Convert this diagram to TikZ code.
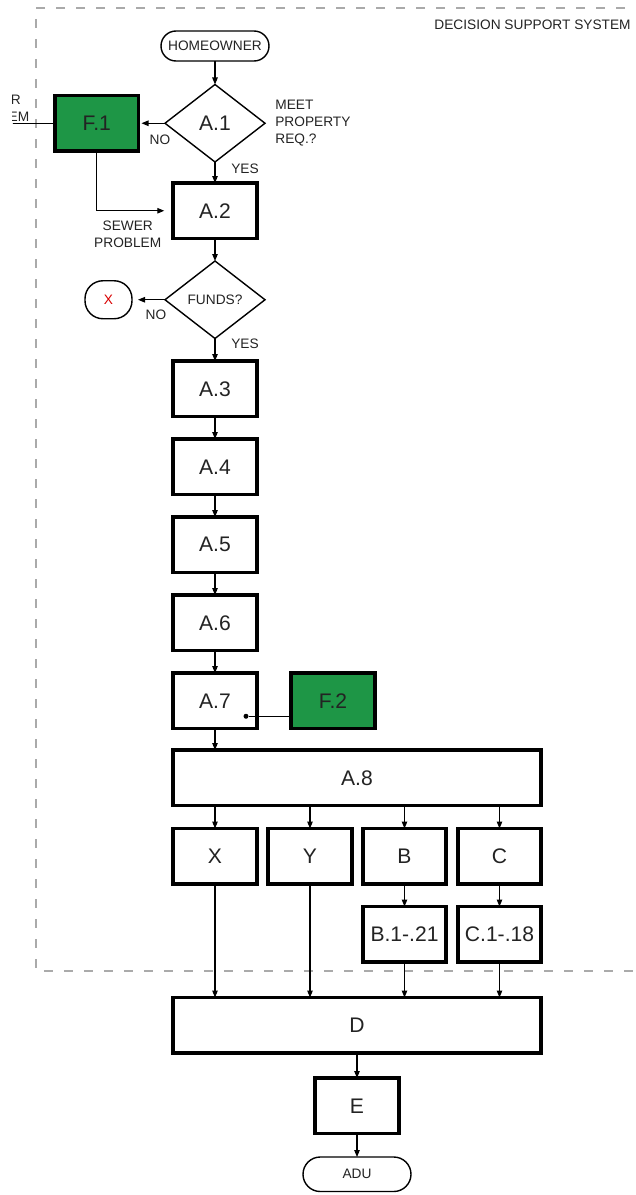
\documentclass[tikz,border=0pt]{standalone}
\usepackage{fontspec}
\setmainfont{Liberation Sans}
\usetikzlibrary{arrows.meta,positioning,shapes.geometric,calc}
\definecolor{fgreen}{RGB}{30,150,70}
\definecolor{ink}{RGB}{35,35,35}
\definecolor{framegray}{RGB}{170,170,170}

\begin{document}
\begin{tikzpicture}[
  font=\fontsize{7.8}{9.8}\selectfont,
  text=ink,
  >={Triangle[length=1.4mm,width=1.1mm]},
  box/.style={draw=black, line width=2pt, minimum width=16.7mm, minimum height=11.1mm,
              inner sep=2pt, outer sep=0pt, font=\fontsize{12}{14}\selectfont, fill=white},
  longbox/.style={box, minimum width=73.5mm},
  fbox/.style={box, fill=fgreen},
  decision/.style={draw=black, diamond, aspect=1.28, line width=0.8pt, minimum width=20mm,
                   minimum height=15.5mm, inner sep=0pt, outer sep=0pt, fill=white},
  terminal/.style={draw=black, line width=0.8pt, rounded corners=3mm, minimum width=21.6mm,
                   minimum height=6mm, inner sep=1pt, outer sep=0pt, fill=white},
  lbl/.style={inner sep=0pt, align=left},
  flow/.style={->, line width=0.6pt},
  link/.style={line width=0.6pt},
  dot/.style={circle, fill=black, inner sep=0pt, minimum size=1mm},
  sysframe/.style={draw=framegray, line width=0.8pt, dash pattern=on 1.8mm off 2.2mm},
]
\useasboundingbox (0,0) rectangle (12.7,-23.9);
\clip (0.26,0.1) rectangle (12.8,-24);

% ---- system boundary ---------------------------------------------------
\draw[sysframe] (12.9,-0.16) -| (0.72,-19.42) -- (12.9,-19.42);
\node[lbl, anchor=east] (dss) at (12.62,-0.5) {DECISION SUPPORT SYSTEM};

% ---- main column -------------------------------------------------------
\node[terminal] (home) at (4.3,-0.92) {HOMEOWNER};
\node[decision, font=\fontsize{12}{14}\selectfont, below=4.7mm of home] (A1) {A.1};
\node[box, below=4.2mm of A1] (A2) {A.2};
\node[decision, below=4.5mm of A2] (funds) {FUNDS?};
\node[box, below=4.5mm of funds] (A3) {A.3};
\node[box, below=4.5mm of A3] (A4) {A.4};
\node[box, below=4.5mm of A4] (A5) {A.5};
\node[box, below=4.5mm of A5] (A6) {A.6};
\node[box, below=4.5mm of A6] (A7) {A.7};

% ---- side branches -----------------------------------------------------
\node[fbox, left=5.3mm of A1] (F1) {F.1};
\node[fbox, right=6.9mm of A7] (F2) {F.2};
\node[terminal, minimum width=9.4mm, minimum height=7.6mm, rounded corners=3.6mm,
      text=red!85!black, left=6.6mm of funds] (stop) {X};

% ---- split and merge ---------------------------------------------------
\node[longbox, anchor=north west] (A8) at ($(A7.south west)+(0,-4.3mm)$) {A.8};
\node[box, anchor=north west] (X) at ($(A8.south west)+(0,-4.6mm)$) {X};
\node[box, right=2.3mm of X] (Y) {Y};
\node[box, right=2.2mm of Y] (B) {B};
\node[box, right=2.3mm of B] (C) {C};
\node[box, below=4.5mm of B] (B1) {B.1-.21};
\node[box, below=4.5mm of C] (C1) {C.1-.18};
\node[longbox, anchor=north west] (D) at ($(B1.south -| A8.west)+(0,-7.1mm)$) {D};
\node[box, below=5mm of D] (E) {E};
\node[terminal, minimum height=6.9mm, rounded corners=3.45mm, below=4.7mm of E] (adu) {ADU};

% ---- labels ------------------------------------------------------------
\node[lbl, right=2mm of A1] (req) {MEET\\PROPERTY\\REQ.?};
\node[lbl] (no1) at ($(A1.west)+(-0.1,-0.34)$) {NO};
\node[lbl] (yes1) at ($(A1.south)+(0.6,-0.14)$) {YES};
\node[lbl] (no2) at ($(funds.west)+(-0.18,-0.3)$) {NO};
\node[lbl] (yes2) at ($(funds.south)+(0.6,-0.1)$) {YES};
\node[lbl, align=center] (sewer) at ($(F1.south |- A2.west)+(0.62,-0.47)$) {SEWER\\PROBLEM};
\node[lbl, align=center] (sewerin) at ($(F1)+(-2.02,0.3)$) {SEWER\\PROBLEM};

% ---- connectors --------------------------------------------------------
\coordinate (leftedge) at (0,0);
\draw[flow] (home) -- (A1);
\draw[flow] (A1) -- (A2);
\draw[flow] (A2) -- (funds);
\draw[flow] (funds) -- (A3);
\foreach \a/\b in {A3/A4, A4/A5, A5/A6, A6/A7}
  \draw[flow] (\a) -- (\b);
\draw[flow] (A7.south) -- (A7.south |- A8.north);
\draw[flow, shorten >=0.6mm] (A1) -- (F1);
\draw[flow, shorten >=1.8mm] (F1.south) |- (A2.west);
\draw[link] (F1.west) -- (F1.west -| leftedge);
\draw[flow, shorten >=1.2mm] (funds) -- (stop);
\node[dot] (hook) at ($(A7)+(0.62,-0.31)$) {};
\draw[link] (hook) -- (hook -| F2.west);
\foreach \n in {X, Y, B, C}
  \draw[flow] (A8.south -| \n) -- (\n);
\draw[flow] (B) -- (B1);
\draw[flow] (C) -- (C1);
\foreach \n in {X, Y, B1, C1}
  \draw[flow] (\n.south) -- (\n.south |- D.north);
\draw[flow] (D) -- (E);
\draw[flow] (E) -- (adu);

\end{tikzpicture}
\end{document}
